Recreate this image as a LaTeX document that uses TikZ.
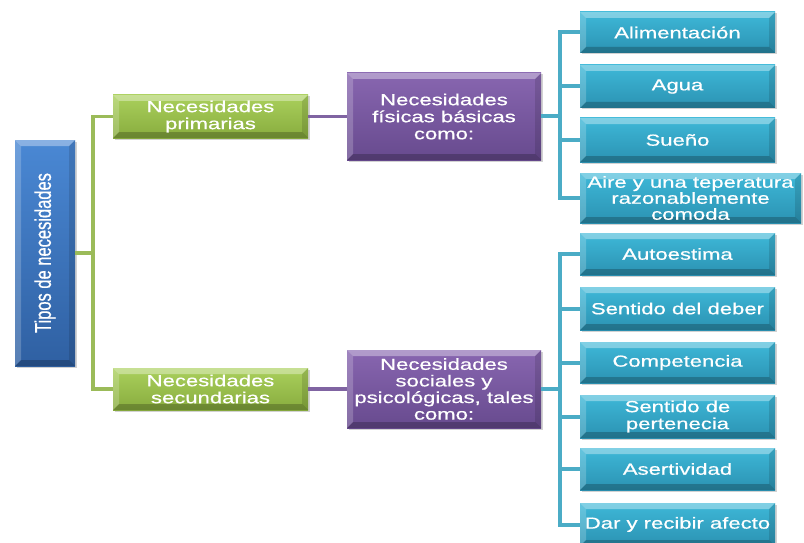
\documentclass[tikz,border=0pt]{standalone}
\usepackage{fontspec}
\setmainfont{Liberation Sans}[FakeStretch=1.38,FakeBold=0.6]
\newfontfamily\rootfont{Liberation Sans}[FakeBold=0.6]
\usetikzlibrary{shadows}
\definecolor{rootA}{HTML}{4A88D4}
\definecolor{rootB}{HTML}{2F60A2}
\definecolor{grnA}{HTML}{AAD05C}
\definecolor{grnB}{HTML}{88AC3E}
\definecolor{purA}{HTML}{8866B0}
\definecolor{purB}{HTML}{674A8E}
\definecolor{tealA}{HTML}{3EB8D8}
\definecolor{tealB}{HTML}{2B92B2}
\definecolor{grnLine}{HTML}{9BBB59}
\definecolor{purLine}{HTML}{8064A2}
\definecolor{tealLine}{HTML}{4BACC6}
\tikzset{
  bevel/.style={path picture={
    \fill[white,opacity=.35] (path picture bounding box.north west) -- (path picture bounding box.north east)
      -- ([shift={(-6pt,-6pt)}]path picture bounding box.north east) -- ([shift={(6pt,-6pt)}]path picture bounding box.north west) -- cycle;
    \fill[white,opacity=.2] (path picture bounding box.north west) -- ([shift={(6pt,-6pt)}]path picture bounding box.north west)
      -- ([shift={(6pt,6pt)}]path picture bounding box.south west) -- (path picture bounding box.south west) -- cycle;
    \fill[black,opacity=.12] (path picture bounding box.north east) -- (path picture bounding box.south east)
      -- ([shift={(-6pt,6pt)}]path picture bounding box.south east) -- ([shift={(-6pt,-6pt)}]path picture bounding box.north east) -- cycle;
    \fill[black,opacity=.22] (path picture bounding box.south west) -- (path picture bounding box.south east)
      -- ([shift={(-6pt,6pt)}]path picture bounding box.south east) -- ([shift={(6pt,6pt)}]path picture bounding box.south west) -- cycle;
  }},
  box/.style={rectangle, inner sep=0pt, text=white, align=center,
    font=\fontsize{16}{17}\selectfont, bevel,
    drop shadow={shadow xshift=1.5pt, shadow yshift=-1.5pt, opacity=.35}},
  rootbox/.style={box, top color=rootA, bottom color=rootB},
  grnbox/.style={box, top color=grnA, bottom color=grnB, minimum width=195pt},
  purbox/.style={box, top color=purA, bottom color=purB, minimum width=194pt},
  tealbox/.style={box, top color=tealA, bottom color=tealB, minimum width=195pt, minimum height=43pt},
  grnconn/.style={draw=grnLine, line width=3.5pt},
  purconn/.style={draw=purLine, line width=3.5pt},
  tealconn/.style={draw=tealLine, line width=4pt},
}
\begin{document}
\begin{tikzpicture}[x=1pt,y=-1pt]
\useasboundingbox[fill=white] (0,0) rectangle (804,543);

% connector junctions
\coordinate (gj) at (93,253);
\coordinate (tj1) at (560,116.5);
\coordinate (tj2) at (560,389);

% root
\node[rootbox, minimum width=60pt, minimum height=226pt] (root) at (45,253)
  {\rotatebox{90}{\scalebox{1}[1.38]{\rootfont\fontsize{16.5}{17}\selectfont Tipos de necesidades}}};

% second level
\node[grnbox, minimum height=43pt] (g1) at (210.5,116.5) {Necesidades\\primarias};
\node[grnbox, minimum height=42pt] (g2) at (210.5,389) {Necesidades\\secundarias};

% third level
\node[purbox, minimum height=87pt] (p1) at (444,116.5) {Necesidades\\físicas básicas\\como:};
\node[purbox, minimum height=78pt, font=\fontsize{16}{16.6}\selectfont] (p2) at (444,389) {Necesidades\\sociales y\\psicológicas, tales\\como:};

% physical needs
\node[tealbox, minimum height=41pt] (t1) at (677.5,32.5) {Alimentación};
\node[tealbox] (t2) at (677.5,86.5) {Agua};
\node[tealbox, minimum height=44pt] (t3) at (677.5,140) {Sueño};
\node[tealbox, minimum width=221pt, minimum height=50pt, font=\fontsize{16}{16}\selectfont] (t4) at (690.5,198) {Aire y una teperatura\\razonablemente\\comoda};

% social and psychological needs
\node[tealbox, minimum height=42pt] (t5) at (677.5,254) {Autoestima};
\node[tealbox] (t6) at (677.5,308.5) {Sentido del deber};
\node[tealbox, minimum height=41pt] (t7) at (677.5,362.5) {Competencia};
\node[tealbox] (t8) at (677.5,416.5) {Sentido de\\pertenecia};
\node[tealbox, minimum height=42pt] (t9) at (677.5,469) {Asertividad};
\node[tealbox] (t10) at (677.5,524.5) {Dar y recibir afecto};

% connectors
\draw[grnconn] (root.east) -- (gj);
\draw[grnconn] (g1.west) -| (gj) |- (g2.west);
\draw[purconn] (g1.east) -- (p1.west);
\draw[purconn] (g2.east) -- (p2.west);
\draw[tealconn] (p1.east) -- (tj1);
\foreach \t in {t1,t2,t3,t4} \draw[tealconn] (tj1) |- (\t.west);
\draw[tealconn] (p2.east) -- (tj2);
\foreach \t in {t5,t6,t7,t8,t9,t10} \draw[tealconn] (tj2) |- (\t.west);
\end{tikzpicture}
\end{document}
